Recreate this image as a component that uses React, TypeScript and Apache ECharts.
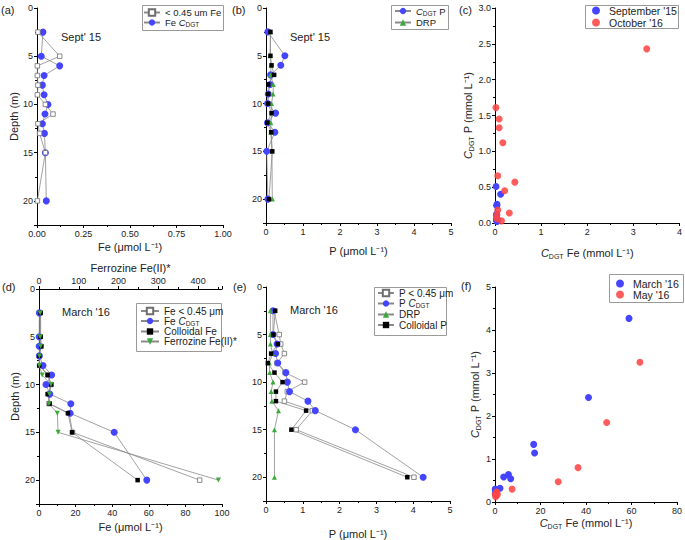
import React, { useEffect, useRef } from 'react';
import * as echarts from 'echarts';

const FONT = 'Liberation Sans, Arial, sans-serif';

// depth of each sample (m)
const depths = [2.5, 5, 6, 7, 8, 9, 10, 11, 12, 13, 15, 20];

// (a) September '15, Fe (µmol/L)
const sepFeFiltered = [0.005, 0.122, 0.002, 0.002, 0.005, 0.002, 0.045, 0.086, 0.005, 0.014, 0.045, 0.002];
const sepFeCDGT = [0.032, 0.023, 0.122, 0.038, 0.029, 0.038, 0.059, 0.043, 0.029, 0.04, 0.045, 0.05];

// (b) September '15, P (µmol/L)
const sepPCDGT = [0.05, 0.51, 0.4, 0.125, 0.11, 0.06, 0.04, 0.26, 0.04, 0.24, 0.02, 0.05];
const sepDRP = [0.12, 0.11, 0.14, 0.12, 0.2, 0.19, 0.15, 0.16, 0.13, 0.13, 0.16, 0.17];
const sepPOther = [0.12, 0.12, 0.15, 0.22, 0.06, 0.06, 0.06, 0.15, 0.035, 0.14, 0.17, 0.08];

// (c) October '16 CDGT Fe vs CDGT P
const oct16 = [
  [3.29, 2.43], [0.02, 1.61], [0.09, 1.45], [0.09, 1.33], [0.17, 1.12], [0.06, 0.66],
  [0.43, 0.57], [0.21, 0.45], [0.31, 0.14], [0.14, 0.03], [0.06, 0.18], [0.04, 0.11], [0.04, 0.06],
];

// (d) March '16, Fe
const marFeFiltered = [0.5, 0.5, 0.8, 0.2, 0.5, 5.0, 6.5, 5.5, 5.5, 16.5, 18.3, 87.8];
const marFeCDGT = [0.2, 0.1, 0.1, 0.2, 2.2, 6.9, 3.8, 5.9, 17.4, 17.0, 41.1, 58.9];
const marFeColloidal = [0.9, 0.9, 1.3, 0.1, 0.1, 4.7, 6.7, 4.7, 5.8, 15.8, 18.1, 53.9];
const marFerrozine = [3, 3, 4, 1, 1, 8, 30, 26, 25, 46, 48, 451];

// (e) March '16, P
const marPFiltered = [0.22, 0.36, 0.4, 0.5, 0.3, 0.52, 1.05, 0.58, 0.5, 1.26, 0.82, 4.02];
const marPCDGT = [0.19, 0.19, 0.3, 0.26, 0.32, 0.54, 0.58, 0.64, 1.14, 1.34, 2.43, 4.27];
const marDRP = [0.12, 0.12, 0.12, 0.18, 0.09, 0.1, 0.19, 0.14, 0.16, 0.34, 0.23, 0.23];
const marPColloidal = [0.25, 0.2, 0.32, 0.14, 0.05, 0.23, 0.45, 0.27, 0.27, 1.09, 0.69, 3.84];

// (f) May '16 CDGT Fe vs CDGT P
const may16 = [
  [63.7, 3.25], [49.1, 1.85], [36.5, 0.8], [27.8, 0.47], [7.5, 0.3], [0.7, 0.23],
  [1.0, 0.17], [0.2, 0.18], [0.3, 0.12], [0.5, 0.2], [0.9, 0.21], [0.4, 0.15],
];

const BLUE = '#4545ff';
const RED = '#ff4646';
const GREEN = '#3daa3d';
const LINE = '#8a8a8a';

const richName = {
  n: { fontSize: 11, lineHeight: 14, fontFamily: FONT, color: '#222' },
  i: { fontSize: 11, lineHeight: 14, fontStyle: 'italic', fontFamily: FONT, color: '#222' },
  s: { fontSize: 7, lineHeight: 8, verticalAlign: 'bottom', fontFamily: FONT, color: '#222' },
};

const legendLabels: Record<string, string> = {
  aFilt: '{n|< 0.45 um Fe}',
  aCdgt: '{n|Fe }{i|C}{s|DGT}',
  bCdgt: '{i|C}{s|DGT}{n| P}',
  bDrp: '{n|DRP}',
  cSep: "{n|September '15}",
  cOct: "{n|October '16}",
  dFilt: '{n|Fe < 0.45 μm}',
  dCdgt: '{n|Fe }{i|C}{s|DGT}',
  dColl: '{n|Colloidal Fe}',
  dFerro: '{n|Ferrozine Fe(II)*}',
  eFilt: '{n|P < 0.45 μm}',
  eCdgt: '{n|P }{i|C}{s|DGT}',
  eDrp: '{n|DRP}',
  eColl: '{n|Colloidal P}',
  fMar: "{n|March '16}",
  fMay: "{n|May '16}",
};

function axisBase(extra: any) {
  return {
    type: 'value',
    axisLine: { show: true, onZero: false, lineStyle: { color: '#000', width: 1 } },
    axisTick: { show: true, length: 3, lineStyle: { color: '#000' } },
    minorTick: { show: true, splitNumber: 2, length: 2, lineStyle: { color: '#000' } },
    splitLine: { show: false },
    axisLabel: { fontSize: 9, color: '#222', margin: 4, fontFamily: FONT },
    nameTextStyle: { fontSize: 11, color: '#222', fontFamily: FONT, rich: richName },
    ...extra,
  };
}

function depthAxis(gridIndex: number, withName: boolean, nameGap = 18) {
  return axisBase({
    gridIndex,
    inverse: true,
    min: 0,
    max: 22.5,
    interval: 5,
    name: withName ? 'Depth (m)' : '',
    nameLocation: 'middle',
    nameRotate: 90,
    nameGap,
    axisLabel: {
      fontSize: 9, color: '#222', margin: 4, fontFamily: FONT,
      formatter: (v: number) => (v % 5 === 0 ? String(v) : ''),
    },
  });
}

function profile(name: string, xs: number[], xi: number, yi: number, symbol: string, size: number, color: string, border?: string) {
  return {
    type: 'line',
    name,
    xAxisIndex: xi,
    yAxisIndex: yi,
    data: xs.map((v, i) => [v, depths[i]]),
    symbol,
    symbolSize: size,
    showAllSymbol: true,
    lineStyle: { color: LINE, width: 0.8 },
    itemStyle: { color, borderColor: border || color, borderWidth: border ? 0.8 : 0, opacity: 1 },
    emphasis: { disabled: true },
  };
}

function scatter(name: string, data: number[][], xi: number, yi: number, color: string, opacity = 1) {
  return {
    type: 'scatter',
    name,
    xAxisIndex: xi,
    yAxisIndex: yi,
    data,
    symbol: 'circle',
    symbolSize: 7,
    itemStyle: { color, opacity },
    emphasis: { disabled: true },
  };
}

function legend(left: number, top: number, data: string[], itemWidth: number, lineHeight: number, gap: number, fontSize = 10) {
  return {
    orient: 'vertical',
    left,
    top,
    data,
    selectedMode: false,
    itemWidth,
    itemHeight: 8,
    itemGap: gap,
    padding: 0,
    borderWidth: 0,
    formatter: (n: string) => legendLabels[n] || n,
    textStyle: {
      fontSize, fontFamily: FONT, color: '#222',
      rich: {
        n: { fontSize, lineHeight, fontFamily: FONT, color: '#222' },
        i: { fontSize, lineHeight, fontStyle: 'italic', fontFamily: FONT, color: '#222' },
        s: { fontSize: 6.5, lineHeight: 7, verticalAlign: 'bottom', fontFamily: FONT, color: '#222' },
      },
    },
  };
}

function frame(x: number, y: number, w: number, h: number) {
  return {
    type: 'rect', silent: true, z: 0,
    shape: { x: x + 0.5, y: y + 0.5, width: w, height: h },
    style: { fill: '#fff', stroke: '#9a9a9a', lineWidth: 1 },
  };
}

function txt(left: number, top: number, text: string, fontSize = 11) {
  return { type: 'text', left, top, silent: true, style: { text, fontSize, fontFamily: FONT, fill: '#222' } };
}

export default function App() {
  const ref = useRef<HTMLDivElement>(null);
  useEffect(() => {
    if (!ref.current) return;
    const chart = echarts.init(ref.current, undefined, { renderer: 'svg' });

    const sepPairs = sepFeCDGT.map((v, i) => [v, sepPCDGT[i]]);
    const marPairs = marFeCDGT.map((v, i) => [v, marPCDGT[i]]);

    const option: any = {
      animation: false,
      backgroundColor: '#fff',
      textStyle: { fontFamily: FONT },
      grid: [
        { left: 37, top: 8, width: 186, height: 217 },
        { left: 266, top: 8, width: 185, height: 215 },
        { left: 495, top: 8, width: 185, height: 215 },
        { left: 39, top: 289, width: 183, height: 215 },
        { left: 266, top: 287, width: 184, height: 214 },
        { left: 495, top: 287, width: 185, height: 215 },
      ],
      xAxis: [
        axisBase({
          gridIndex: 0, min: 0, max: 1, interval: 0.25,
          name: 'Fe (μmol L⁻¹)', nameLocation: 'middle', nameGap: 16,
          axisLabel: { fontSize: 9, color: '#222', margin: 4, fontFamily: FONT, formatter: (v: number) => v.toFixed(2) },
        }),
        axisBase({ gridIndex: 1, min: 0, max: 5, interval: 1, name: 'P (μmol L⁻¹)', nameLocation: 'middle', nameGap: 22 }),
        axisBase({ gridIndex: 2, min: 0, max: 4, interval: 1, name: '{i|C}{s|DGT}{n| Fe (mmol L⁻¹)}', nameLocation: 'middle', nameGap: 23 }),
        axisBase({ gridIndex: 3, min: 0, max: 100, interval: 20, name: 'Fe (μmol L⁻¹)', nameLocation: 'middle', nameGap: 17 }),
        axisBase({
          gridIndex: 3, position: 'top', min: 0, max: 460, interval: 100,
          name: 'Ferrozine Fe(II)*', nameLocation: 'middle', nameGap: 16,
          axisLabel: { fontSize: 9, color: '#222', margin: 4, fontFamily: FONT, formatter: (v: number) => (v % 100 === 0 ? String(v) : '') },
        }),
        axisBase({ gridIndex: 4, min: 0, max: 5, interval: 1, name: 'P (μmol L⁻¹)', nameLocation: 'middle', nameGap: 27 }),
        axisBase({ gridIndex: 5, min: 0, max: 80, interval: 20, name: '{i|C}{s|DGT}{n| Fe (mmol L⁻¹)}', nameLocation: 'middle', nameGap: 14 }),
      ],
      yAxis: [
        depthAxis(0, true, 17),
        depthAxis(1, false),
        axisBase({
          gridIndex: 2, min: 0, max: 3, interval: 0.5,
          name: '{i|C}{s|DGT}{n| P (mmol L⁻¹)}', nameLocation: 'middle', nameRotate: 90, nameGap: 17,
          axisLabel: { fontSize: 9, color: '#222', margin: 4, fontFamily: FONT, formatter: (v: number) => v.toFixed(1) },
        }),
        depthAxis(3, true, 19),
        depthAxis(4, false),
        axisBase({
          gridIndex: 5, min: 0, max: 5, interval: 1,
          name: '{i|C}{s|DGT}{n| P (mmol L⁻¹)}', nameLocation: 'middle', nameRotate: 90, nameGap: 2,
        }),
      ],
      legend: [
        legend(143, 7.5, ['aFilt', 'aCdgt'], 16, 10.5, 0, 9.5),
        legend(394, 6, ['bCdgt', 'bDrp'], 16, 11, 1, 9.5),
        legend(592, 5, ['cSep', 'cOct'], 16, 11, 1, 10.5),
        legend(140, 306, ['dFilt', 'dCdgt', 'dColl', 'dFerro'], 18, 11, 0, 10),
        legend(377, 288, ['eFilt', 'eCdgt', 'eDrp', 'eColl'], 16, 11, 0.5, 10),
        legend(616, 278, ['fMar', 'fMay'], 16, 10, 0, 10.5),
      ],
      series: [
        // (a)
        profile('aCdgt', sepFeCDGT, 0, 0, 'circle', 7, BLUE),
        profile('aFilt', sepFeFiltered, 0, 0, 'rect', 4.5, '#fff', '#6e6e6e'),
        // (b)
        profile('bCdgt', sepPCDGT, 1, 1, 'circle', 7, BLUE),
        profile('bDrp', sepDRP, 1, 1, 'triangle', 5, GREEN),
        profile('bOther', sepPOther, 1, 1, 'rect', 4.5, '#000'),
        // (c)
        scatter('cSep', sepPairs, 2, 2, BLUE),
        scatter('cOct', oct16, 2, 2, RED, 0.88),
        // (d)
        profile('dFilt', marFeFiltered, 3, 3, 'rect', 4.5, '#fff', '#6e6e6e'),
        profile('dCdgt', marFeCDGT, 3, 3, 'circle', 7, BLUE),
        profile('dColl', marFeColloidal, 3, 3, 'rect', 4.5, '#000'),
        { ...profile('dFerro', marFerrozine, 4, 3, 'triangle', 5, GREEN), symbolRotate: 180 },
        // (e)
        profile('eFilt', marPFiltered, 5, 4, 'rect', 4.5, '#fff', '#6e6e6e'),
        profile('eCdgt', marPCDGT, 5, 4, 'circle', 7, BLUE),
        profile('eDrp', marDRP, 5, 4, 'triangle', 5, GREEN),
        profile('eColl', marPColloidal, 5, 4, 'rect', 4.5, '#000'),
        // (f)
        scatter('fMar', marPairs, 6, 5, BLUE),
        scatter('fMay', may16, 6, 5, RED, 0.88),
      ],
      graphic: [
        frame(142, 5, 81, 25),
        frame(391, 5, 57, 24),
        frame(585, 5, 93, 23),
        frame(136, 303, 85, 48),
        frame(374, 287, 72, 48),
        frame(609, 274, 74, 28),
        txt(1, 4, '(a)'),
        txt(232, 4, '(b)'),
        txt(459, 4, '(c)'),
        txt(2, 281, '(d)'),
        txt(233, 281, '(e)'),
        txt(461, 280, '(f)'),
        txt(61, 31, "Sept' 15"),
        txt(290, 31, "Sept' 15"),
        txt(62, 306, "March '16"),
        txt(290, 304, "March '16"),
      ],
    };
    chart.setOption(option);
    return () => chart.dispose();
  }, []);
  return (
    <div
      ref={ref}
      style={{ position: 'fixed', left: 0, top: 0, width: 685, height: 540, background: '#fff' }}
    />
  );
}
